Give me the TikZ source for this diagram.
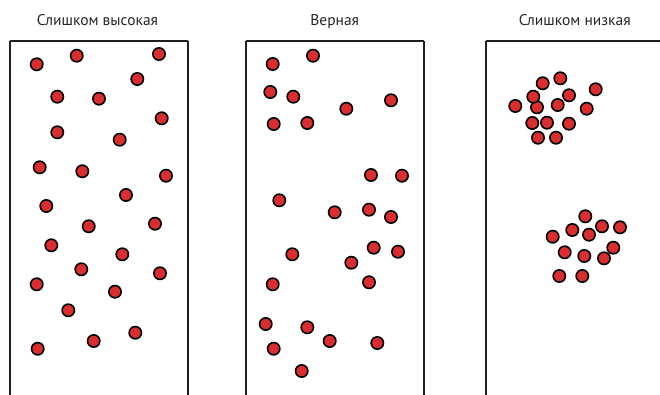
\documentclass[tikz,border=0pt]{standalone}
\usepackage{fontspec}
\setmainfont{PT Sans}
\definecolor{dotred}{RGB}{218,45,48}
\definecolor{edge}{RGB}{30,30,30}
\begin{document}
\begin{tikzpicture}[x=1pt,y=-1pt,
  panel/.style={draw=edge,line width=2pt},
  dot/.style={circle,draw=black,fill=dotred,line width=1.6pt,minimum size=12.3pt,inner sep=0pt},
  title/.style={font=\fontsize{15.5}{16}\selectfont,text=black!85,anchor=base}]
\useasboundingbox (0,0) rectangle (660,395);
\begin{scope}
\clip (0,0) rectangle (660,395);
\draw[panel] (10,41.5) -- (188,41.5);
\draw[panel] (10,41.5) -- (10,400);
\draw[panel] (188,41.5) -- (188,400);
\draw[panel] (246,41.5) -- (424,41.5);
\draw[panel] (246,41.5) -- (246,400);
\draw[panel] (424,41.5) -- (424,400);
\draw[panel] (486,41.5) -- (670,41.5);
\draw[panel] (486,41.5) -- (486,400);
\end{scope}
\node[title] (t1) at (97.5,25.5) {Слишком высокая};
\node[title] (t2) at (334.7,25.5) {Верная};
\node[title] (t3) at (574.7,25.5) {Слишком низкая};
% panel 1
\foreach \x/\y [count=\i] in {36.7/64.3, 76.7/55.7, 159/54, 137.3/79, 57.3/96.7, 99/98.7, 161.7/118.3, 57.3/132.3, 119.7/139.7, 39.7/167.3, 82.3/171.3, 166/175.7, 126/195, 46.3/206, 88.7/226.3, 155/223.7, 51.3/245.3, 122.3/254.3, 81.3/269.3, 160/273.3, 36.7/284.3, 115/291.7, 68.3/310.3, 135.3/332.7, 93.7/341, 37.7/348.7}
  \node[dot] (a\i) at (\x,\y) {};
% panel 2
\foreach \x/\y [count=\i] in {272.7/64, 313/55.7, 270.3/92, 293.3/96.7, 391/100.3, 346.3/108.7, 273.7/124, 307.3/123, 371/175, 402/175.7, 279.3/200.3, 334.7/212.3, 369/209.7, 391/217, 292.3/254.3, 373.7/247.7, 398/251.7, 351.3/262.7, 272.7/284.3, 369/282.3, 265.7/324, 307.3/327.3, 329.7/341, 377.3/343, 273.7/348.7, 301.7/371}
  \node[dot] (b\i) at (\x,\y) {};
% panel 3
\foreach \x/\y [count=\i] in {542.7/83.3, 560.3/78.3, 595.7/89.3, 537/107.3, 533.3/96.7, 569/95.3, 515.3/106, 557.7/105, 586.7/108.7, 532.3/123, 547/122.7, 569/123.7, 538/137.7, 556/137.7, 585.3/216.3, 572.3/230, 602/226.3, 620/227.3, 552.7/236.7, 589/234.7, 564.7/252.3, 584.3/256, 604/258.3, 613.3/247.7, 559.3/276, 582.3/276}
  \node[dot] (c\i) at (\x,\y) {};
\end{tikzpicture}
\end{document}
